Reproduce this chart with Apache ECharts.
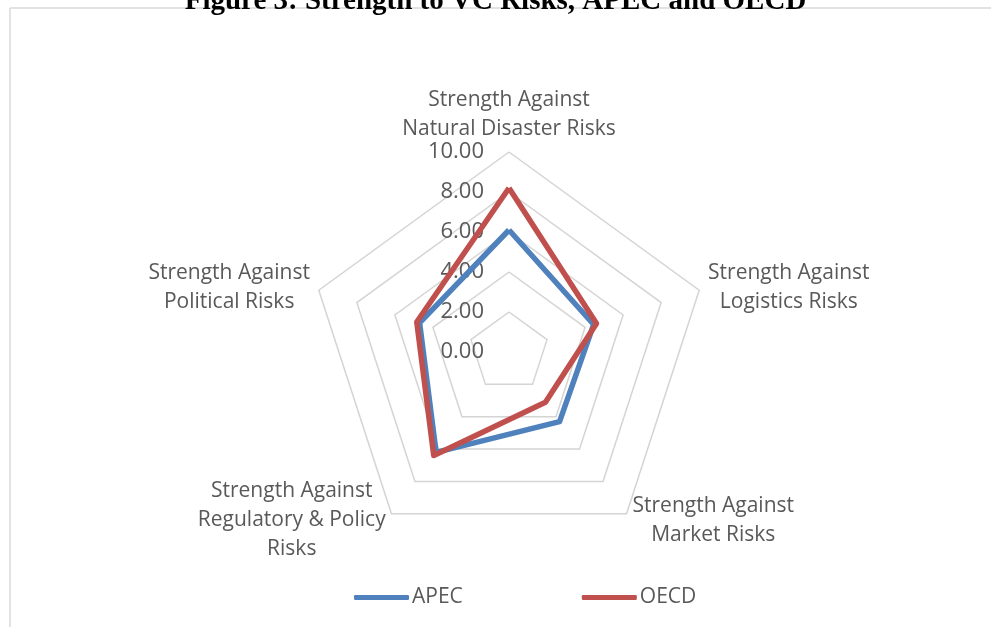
<!DOCTYPE html>
<html>
<head>
<meta charset="utf-8">
<script src="https://cdn.jsdelivr.net/npm/echarts@6/dist/echarts.min.js"></script>
<style>
html,body{margin:0;padding:0;background:#fff;}
#c{width:991px;height:627px;}
</style>
</head>
<body>
<div id="c"></div>
<script>
// Data
var titleText = 'Figure 3: Strength to VC Risks, APEC and OECD';
// categories listed clockwise from top (as in reference)
var categories = [
  'Strength Against\nNatural Disaster Risks',
  'Strength Against\nLogistics Risks',
  'Strength Against\nMarket Risks',
  'Strength Against\nRegulatory & Policy\nRisks',
  'Strength Against\nPolitical Risks'
];
var apecValues = [6.1, 4.45, 4.3, 6.2, 4.7];
var oecdValues = [8.2, 4.6, 3.1, 6.4, 4.85];
var seriesNames = ['APEC', 'OECD'];
var axisMin = 0, axisMax = 10, axisStep = 2;

// ECharts radar places indicators counter-clockwise; reorder to get clockwise
function ccw(arr){ return [arr[0]].concat(arr.slice(1).reverse()); }

var FONT = '"Open Sans", "Noto Sans", sans-serif';
var NAME_SIZE = 21;
var GRAY = '#595959';
var cx = 509, cy = 352, R = 200;

// build rich styles so each multi-line name is centred line-by-line
var ctx = document.createElement('canvas').getContext('2d');
ctx.font = NAME_SIZE + 'px "Open Sans"';
var rich = {};
categories.forEach(function(c, i){
  var w = 0;
  c.split('\n').forEach(function(l){ w = Math.max(w, ctx.measureText(l).width); });
  rich['n' + i] = {width: Math.ceil(w) + 2, align: 'center', color: GRAY, fontFamily: FONT, fontSize: NAME_SIZE, lineHeight: 29};
});

var chart = echarts.init(document.getElementById('c'), null, {renderer:'canvas'});
var option = {
  backgroundColor: '#fff',
  animation: false,
  title: {
    text: titleText, left: 'center', top: -18,
    textStyle: {fontFamily: '"Liberation Serif", "Times New Roman", serif', fontWeight: 'bold', fontSize: 29, color: '#000', lineHeight: 29}
  },
  legend: {
    data: seriesNames, bottom: 14, left: 349,
    itemWidth: 55, itemHeight: 5, itemGap: 119,
    icon: 'roundRect',
    textStyle: {fontFamily: FONT, fontSize: NAME_SIZE, color: GRAY, padding: [0,0,0,-2]}
  },
  radar: {
    center: [cx, cy], radius: R, startAngle: 90, splitNumber: 5,
    indicator: ccw(categories).map(function(n){ return {name: n, min: axisMin, max: axisMax}; }),
    axisName: {
      color: GRAY, fontFamily: FONT, fontSize: NAME_SIZE, lineHeight: 29,
      formatter: function(name){
        var i = categories.indexOf(name);
        return name.split('\n').map(function(l){ return '{n' + i + '|' + l + '}'; }).join('\n');
      },
      rich: rich
    },
    nameGap: 8,
    axisLine: {show: false},
    axisTick: {show: false},
    axisLabel: {show: false},
    splitArea: {show: false},
    splitLine: {lineStyle: {color: '#d4d4d4', width: 1.5}}
  },
  grid: {left: cx, top: cy - R, width: 1, height: R, containLabel: false},
  xAxis: {show: false, type: 'value'},
  yAxis: {
    type: 'value', min: axisMin, max: axisMax, interval: axisStep,
    axisLine: {show: false}, axisTick: {show: false}, splitLine: {show: false},
    axisLabel: {margin: 25, color: GRAY, fontFamily: FONT, fontSize: 22,
      formatter: function(v){ return v.toFixed(2); }}
  },
  series: [{
    type: 'radar',
    symbol: 'none',
    data: [
      {name: seriesNames[0], value: ccw(apecValues), lineStyle: {color: '#4F81BD', width: 5.5}, itemStyle: {color: '#4F81BD'}},
      {name: seriesNames[1], value: ccw(oecdValues), lineStyle: {color: '#C0504D', width: 5.5}, itemStyle: {color: '#C0504D'}}
    ]
  }],
  graphic: [
    {type: 'line', shape: {x1: 10, y1: 8, x2: 991, y2: 8}, style: {stroke: '#d9d9d9', lineWidth: 1.5}, silent: true},
    {type: 'line', shape: {x1: 10, y1: 8, x2: 10, y2: 627}, style: {stroke: '#d9d9d9', lineWidth: 1.5}, silent: true}
  ]
};
chart.setOption(option);
</script>
</body>
</html>
